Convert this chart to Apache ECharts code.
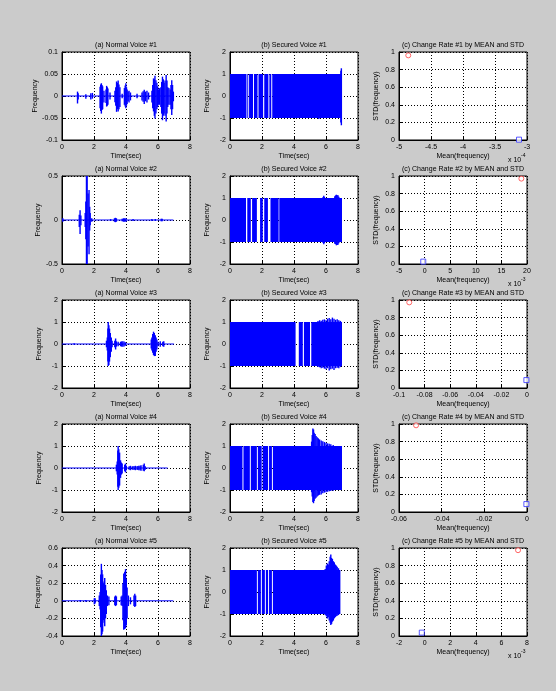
<!DOCTYPE html>
<html>
<head>
<meta charset="utf-8">
<script src="https://cdn.jsdelivr.net/npm/echarts@6.0.0/dist/echarts.min.js"></script>
<style>
html, body { margin: 0; padding: 0; background: #cbcbcb; }
#chart { width: 556px; height: 691px; }
</style>
</head>
<body>
<div id="chart"></div>
<script>
// (a) normal voice envelopes: [time, top, bottom]
const normal1 = [
  [0.97,0.010,-0.017],[1.01,0.006,-0.008],[1.49,0.004,-0.006],[1.80,0.006,-0.008],[1.90,0.007,-0.006],
  [2.38,0.021,-0.028],[2.42,0.026,-0.034],[2.46,0.029,-0.040],[2.50,0.025,-0.032],[2.54,0.022,-0.030],[2.62,0.012,-0.015],
  [2.75,0.015,-0.016],[2.79,0.023,-0.024],[2.83,0.020,-0.022],[2.87,0.017,-0.020],[3.00,0.008,-0.008],
  [3.31,0.012,-0.014],[3.36,0.020,-0.022],[3.41,0.033,-0.036],[3.46,0.030,-0.030],[3.51,0.035,-0.035],[3.56,0.026,-0.030],[3.62,0.020,-0.025],[3.76,0.005,-0.005],
  [3.90,0.018,-0.020],[3.95,0.024,-0.024],[3.99,0.029,-0.028],[4.03,0.020,-0.022],[4.07,0.015,-0.018],[4.13,0.010,-0.012],[4.19,0.012,-0.015],[4.28,0.008,-0.010],
  [4.69,0.005,-0.005],[5.00,0.008,-0.010],[5.07,0.011,-0.013],[5.14,0.014,-0.018],[5.22,0.010,-0.012],[5.31,0.012,-0.015],[5.41,0.008,-0.008],
  [5.62,0.012,-0.015],[5.67,0.025,-0.028],[5.72,0.040,-0.035],[5.77,0.038,-0.045],[5.81,0.046,-0.051],[5.87,0.036,-0.040],[5.93,0.030,-0.030],[5.98,0.022,-0.025],[6.03,0.015,-0.020],
  [6.10,0.018,-0.020],[6.18,0.020,-0.025],[6.23,0.032,-0.040],[6.28,0.044,-0.055],[6.33,0.038,-0.045],[6.38,0.030,-0.040],[6.44,0.035,-0.045],[6.51,0.048,-0.058],[6.56,0.035,-0.040],[6.61,0.020,-0.025],
  [6.68,0.018,-0.020],[6.76,0.015,-0.020],[6.81,0.025,-0.030],[6.86,0.036,-0.043],[6.91,0.025,-0.030],[6.96,0.010,-0.012]
];
const normal2 = [
  [0.05,0.02,-0.02],[1.08,0.06,-0.08],[1.13,0.11,-0.16],[1.18,0.05,-0.06],[1.45,0.08,-0.08],[1.49,0.21,-0.22],[1.53,0.50,-0.50],
  [1.57,0.50,-0.50],[1.63,0.30,-0.30],[1.69,0.34,-0.39],[1.73,0.15,-0.12],[1.76,0.08,-0.06],[1.86,0.02,-0.02],
  [3.04,0.01,-0.01],[3.28,0.02,-0.02],[3.34,0.025,-0.025],[3.40,0.02,-0.02],[3.76,0.015,-0.015],[3.84,0.02,-0.02],[3.92,0.02,-0.02],
  [4.00,0.02,-0.02],[4.44,0.012,-0.012],[5.62,0.01,-0.01],[5.83,0.012,-0.012],[6.20,0.015,-0.015],[6.26,0.015,-0.015]
];
const normal3 = [
  [0.76,0.03,-0.03],[2.78,0.15,-0.15],[2.83,0.30,-0.30],[2.87,0.70,-0.80],[2.89,1.00,-1.00],[2.93,0.85,-0.95],[2.97,0.70,-0.80],
  [3.02,0.50,-0.60],[3.08,0.30,-0.35],[3.13,0.15,-0.15],[3.30,0.15,-0.15],[3.35,0.25,-0.25],[3.40,0.12,-0.12],[3.51,0.10,-0.10],
  [3.66,0.10,-0.10],[3.72,0.12,-0.12],[3.80,0.12,-0.12],[3.88,0.11,-0.11],[3.97,0.08,-0.08],
  [5.58,0.20,-0.20],[5.62,0.30,-0.30],[5.67,0.45,-0.40],[5.72,0.56,-0.50],[5.77,0.50,-0.55],[5.83,0.40,-0.55],[5.88,0.30,-0.35],
  [5.93,0.20,-0.25],[6.00,0.10,-0.10],[6.14,0.12,-0.12],[6.30,0.10,-0.10],[6.36,0.12,-0.12]
];
const normal4 = [
  [3.40,0.15,-0.15],[3.45,0.30,-0.30],[3.49,0.80,-0.85],[3.51,1.00,-1.00],[3.55,0.85,-0.90],[3.60,0.70,-0.80],[3.66,0.35,-0.45],
  [3.71,0.25,-0.30],[3.76,0.20,-0.25],[3.92,0.15,-0.15],[3.97,0.20,-0.20],[4.02,0.10,-0.10],[4.20,0.08,-0.08],[4.28,0.10,-0.10],
  [4.40,0.08,-0.08],[4.50,0.09,-0.09],[4.59,0.10,-0.10],[4.70,0.09,-0.09],[4.80,0.10,-0.10],[4.88,0.10,-0.10],[4.94,0.12,-0.12],
  [5.08,0.15,-0.12],[5.14,0.20,-0.15],[5.20,0.08,-0.08]
];
const normal5 = [
  [1.14,0.01,-0.01],[1.49,0.01,-0.01],[2.02,0.03,-0.04],[2.07,0.03,-0.03],[2.33,0.06,-0.06],[2.38,0.10,-0.10],[2.42,0.30,-0.30],
  [2.46,0.42,-0.40],[2.50,0.35,-0.38],[2.54,0.30,-0.35],[2.59,0.20,-0.22],[2.63,0.22,-0.25],[2.67,0.26,-0.29],[2.72,0.18,-0.20],
  [2.77,0.12,-0.15],[2.84,0.06,-0.06],[2.93,0.05,-0.05],[3.30,0.05,-0.05],[3.35,0.06,-0.06],[3.40,0.05,-0.05],[3.70,0.05,-0.05],
  [3.76,0.06,-0.06],[3.81,0.20,-0.22],[3.86,0.31,-0.33],[3.92,0.33,-0.32],[3.97,0.36,-0.31],[4.02,0.25,-0.28],[4.07,0.15,-0.20],
  [4.15,0.06,-0.06],[4.28,0.04,-0.04],[4.50,0.06,-0.06],[4.55,0.08,-0.07],[4.60,0.06,-0.06]
];
const normalEnd = [6.96, 6.96, 7.0, 6.6, 6.96];

// (b) secured voice: filled spans [start, end] at +-1, plus overshoots [time, top, bottom]
const secured1 = [[0,1.03],[1.08,1.14],[1.19,1.44],[1.50,1.72],[1.78,2.07],[2.14,2.40],[2.46,2.58],[2.64,6.97]];
const secured2 = [[0,1.00],[1.08,1.30],[1.38,1.68],[1.88,2.05],[2.14,2.37],[2.53,3.04],[3.08,7.00]];
const secured3 = [[0,4.10],[4.30,4.55],[4.62,5.00],[5.08,7.00]];
const secured4 = [[0,0.78],[0.84,1.24],[1.30,1.68],[1.74,1.98],[2.04,2.38],[2.44,2.62],[2.68,7.00]];
const secured5 = [[0,1.68],[1.74,1.93],[1.99,2.18],[2.24,2.38],[2.44,2.62],[2.68,6.90]];
const spikes1 = [[5.55,1.0,-1.05],[6.93,1.15,-1.2],[6.96,1.26,-1.33]];
const spikes2 = [[5.82,1.05,-1.05],[5.86,1.1,-1.1],[5.90,1.05,-1.05],[6.55,1.08,-1.08],[6.60,1.12,-1.1],[6.65,1.15,-1.15],
  [6.70,1.12,-1.14],[6.75,1.12,-1.12],[6.80,1.06,-1.06]];
const spikes3 = [[5.5,1.05,-1.05],[5.6,1.08,-1.06],[5.7,1.06,-1.1],[5.8,1.1,-1.08],[5.9,1.12,-1.12],[6.0,1.08,-1.15],
  [6.1,1.15,-1.1],[6.2,1.18,-1.2],[6.3,1.12,-1.15],[6.4,1.2,-1.12],[6.5,1.15,-1.18],[6.6,1.1,-1.1],[6.7,1.12,-1.08],
  [6.8,1.08,-1.1],[6.9,1.05,-1.05]];
const spikes4 = [[5.10,1.2,-1.1],[5.14,1.5,-1.3],[5.18,1.8,-1.55],[5.22,1.75,-1.6],[5.26,1.6,-1.5],[5.32,1.55,-1.4],
  [5.38,1.45,-1.35],[5.45,1.4,-1.3],[5.52,1.35,-1.25],[5.6,1.3,-1.22],[5.7,1.25,-1.2],[5.8,1.22,-1.15],[5.9,1.18,-1.12],
  [6.0,1.15,-1.1],[6.1,1.12,-1.08],[6.2,1.1,-1.06],[6.3,1.08,-1.05],[6.45,1.05,-1.03]];
const spikes5 = [[5.95,1.05,-1.05],[6.02,1.2,-1.1],[6.08,1.3,-1.2],[6.14,1.25,-1.15],[6.2,1.4,-1.3],[6.26,1.6,-1.4],
  [6.3,1.7,-1.5],[6.35,1.55,-1.45],[6.4,1.5,-1.35],[6.46,1.4,-1.3],[6.52,1.35,-1.2],[6.58,1.25,-1.15],[6.64,1.2,-1.1],
  [6.7,1.15,-1.08],[6.78,1.08,-1.05]];

// (c) change rate: mean (in axis units) and std
const meanRed  = [-4.855, 18.9, -0.092, -0.052, 7.3];
const stdRed   = [0.962, 0.97, 0.973, 0.985, 0.975];
const meanBlue = [-3.125, -0.26, -0.0005, -0.0003, -0.22];
const stdBlue  = [0.004, 0.027, 0.09, 0.09, 0.038];
const meanExp  = ['-4', '-3', '', '', '-3'];

// axis ranges [min, max, interval]
const timeRange = [0, 8, 2];
const normalY = [[-0.1, 0.1, 0.05], [-0.5, 0.5, 0.5], [-2, 2, 1], [-2, 2, 1], [-0.4, 0.6, 0.2]];
const securedY = [-2, 2, 1];
const meanX = [[-5, -3, 0.5], [-5, 20, 5], [-0.1, 0, 0.02], [-0.06, 0, 0.02], [-2, 8, 2]];
const stdY = [0, 1, 0.2];

const normals = [normal1, normal2, normal3, normal4, normal5];
const secureds = [secured1, secured2, secured3, secured4, secured5];
const spikes = [spikes1, spikes2, spikes3, spikes4, spikes5];

const FONT = 'Liberation Sans, Arial, sans-serif';
const BLUE = '#0000ff';
const colLeft = [62, 230, 399];
const rowTop = [52, 176, 300, 424, 548];
const W = 128, H = 88;

const grids = [], xAxes = [], yAxes = [], series = [], graphics = [];

function fmt(v) { return String(parseFloat(v.toFixed(4))); }

function axis(range, name, isX, gi) {
  return {
    type: 'value', gridIndex: gi,
    min: range[0], max: range[1], interval: range[2],
    name: name, nameLocation: 'middle', nameGap: isX ? 13 : 19,
    nameTextStyle: { fontSize: 7, color: '#000', fontFamily: FONT },
    axisLine: { show: true, onZero: false, lineStyle: { color: '#000', width: 1 } },
    axisTick: { show: true, inside: true, length: 3, lineStyle: { color: '#000' } },
    axisLabel: { fontSize: 7, color: '#000', fontFamily: FONT, margin: 4, formatter: fmt },
    splitLine: { show: true, lineStyle: { color: '#000', type: [1, 2], width: 1 } }
  };
}

function vline(color, width) {
  return function (params, api) {
    const a = api.coord([api.value(0), api.value(1)]);
    const b = api.coord([api.value(0), api.value(2)]);
    return { type: 'line', shape: { x1: a[0], y1: a[1], x2: b[0], y2: b[1] },
      style: { stroke: color, lineWidth: width } };
  };
}

function addPanel(r, c, xr, yr, xName, yName, title) {
  const gi = grids.length;
  grids.push({ left: colLeft[c], top: rowTop[r], width: W, height: H, show: true,
    backgroundColor: '#fff', borderColor: '#000', borderWidth: 1, containLabel: false,
    outerBoundsMode: 'none' });
  xAxes.push(axis(xr, xName, true, gi));
  yAxes.push(axis(yr, yName, false, gi));
  graphics.push({ type: 'text', x: colLeft[c] + W / 2, y: rowTop[r] - 3,
    style: { text: title, font: '7px ' + FONT, fill: '#000',
      textAlign: 'center', textVerticalAlign: 'bottom', align: 'center', verticalAlign: 'bottom' } });
  return gi;
}

for (let r = 0; r < 5; r++) {
  const n = r + 1;
  // (a)
  let gi = addPanel(r, 0, timeRange, normalY[r], 'Time(sec)', 'Frequency', '(a) Normal Voice #' + n);
  series.push({ type: 'line', xAxisIndex: gi, yAxisIndex: gi, data: [[0, 0], [normalEnd[r], 0]],
    symbol: 'none', lineStyle: { color: BLUE, width: 1 }, silent: true });
  series.push({ type: 'custom', xAxisIndex: gi, yAxisIndex: gi, clip: true, data: normals[r],
    encode: { x: 0, y: [1, 2] }, renderItem: vline(BLUE, 1.4), silent: true });

  // (b)
  gi = addPanel(r, 1, timeRange, securedY, 'Time(sec)', 'Frequency', '(b) Secured Voice #' + n);
  series.push({ type: 'custom', xAxisIndex: gi, yAxisIndex: gi, clip: true, data: secureds[r],
    encode: { x: [0, 1] }, silent: true,
    renderItem: function (params, api) {
      const a = api.coord([api.value(0), 1]);
      const b = api.coord([api.value(1), -1]);
      return { type: 'rect', shape: { x: a[0], y: a[1], width: b[0] - a[0], height: b[1] - a[1] },
        style: { fill: BLUE } };
    } });
  series.push({ type: 'custom', xAxisIndex: gi, yAxisIndex: gi, clip: true, data: spikes[r],
    encode: { x: 0, y: [1, 2] }, renderItem: vline(BLUE, 1.4), silent: true });

  // (c)
  gi = addPanel(r, 2, meanX[r], stdY, 'Mean(frequency)', 'STD(frequency)', '(c) Change Rate #' + n + ' by MEAN and STD');
  series.push({ type: 'scatter', xAxisIndex: gi, yAxisIndex: gi, data: [[meanRed[r], stdRed[r]]],
    symbol: 'circle', symbolSize: 5,
    itemStyle: { color: '#fff', borderColor: '#ff4040', borderWidth: 1 }, silent: true });
  series.push({ type: 'scatter', xAxisIndex: gi, yAxisIndex: gi, data: [[meanBlue[r], stdBlue[r]]],
    symbol: 'rect', symbolSize: 5,
    itemStyle: { color: '#fff', borderColor: '#3030ff', borderWidth: 1 }, silent: true });
  if (meanExp[r]) {
    const yb = rowTop[r] + H + 20;
    graphics.push({ type: 'text', x: colLeft[2] + W - 19, y: yb,
      style: { text: 'x 10', font: '7px ' + FONT, fill: '#000', textVerticalAlign: 'middle', verticalAlign: 'middle' } });
    graphics.push({ type: 'text', x: colLeft[2] + W - 6, y: yb - 4,
      style: { text: meanExp[r], font: '5px ' + FONT, fill: '#000', textVerticalAlign: 'middle', verticalAlign: 'middle' } });
  }
}

const chart = echarts.init(document.getElementById('chart'));
chart.setOption({
  backgroundColor: '#cbcbcb',
  animation: false,
  grid: grids,
  xAxis: xAxes,
  yAxis: yAxes,
  series: series,
  graphic: graphics
});
</script>
</body>
</html>
